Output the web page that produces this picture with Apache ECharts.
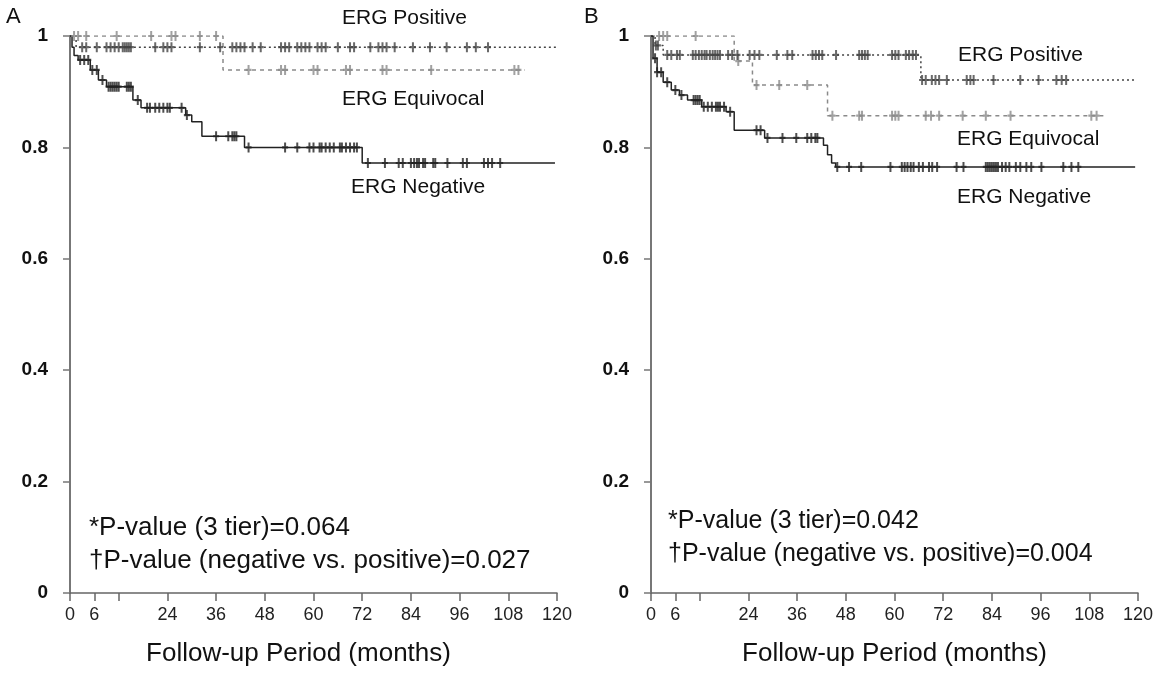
<!DOCTYPE html>
<html>
<head>
<meta charset="utf-8">
<script src="https://cdn.jsdelivr.net/npm/echarts@6/dist/echarts.min.js"></script>
<style>
  html, body { margin: 0; padding: 0; background: #fff; }
  #chart { width: 1156px; height: 678px; }
</style>
</head>
<body>
<div id="chart"></div>
<script>
// axis ticks
const xTicks = [0, 6, 12, 24, 36, 48, 60, 72, 84, 96, 108, 120];
const xLabels = [0, 6, 24, 36, 48, 60, 72, 84, 96, 108, 120];

// Panel A - step curves (time, survival) and censored times
const negA_t = [0, 0.5, 1, 2, 5, 7, 9, 15.5, 17.5, 28.5, 30, 32.5, 43, 72, 119.5];
const negA_s = [1, 0.98, 0.965, 0.957, 0.939, 0.921, 0.909, 0.885, 0.871, 0.858, 0.846, 0.82, 0.80, 0.772, 0.772];
const negA_c = [2.5, 3.5, 4.5, 5.5, 6.6, 8, 9.5, 10, 10.5, 11, 11.5, 12, 14, 14.5, 15, 16.7, 19, 19.7, 21, 22, 23, 24, 24.6, 27.5, 28.8,
  36, 39, 40, 40.5, 41, 44, 53, 56, 59, 60, 61.5, 62, 63, 64, 65, 66.5, 67, 68, 69, 70, 70.7,
  73.4, 77.6, 81, 82, 84, 84.8, 85.5, 86, 87, 87.5, 89.5, 90, 93, 96.8, 97.8, 102, 103, 104, 106];

const posA_t = [0, 1.5, 120];
const posA_s = [1, 0.98, 0.98];
const posA_c = [3, 4, 6.6, 9, 10, 11, 12, 13, 13.5, 14, 14.5, 15, 21, 23, 24, 25, 32, 37, 40, 41, 42, 43, 45, 47,
  52, 53, 54, 56, 57, 58, 59, 61, 62, 63, 66, 69, 70, 74, 76, 77, 78, 80, 84.5, 88.7, 92.8, 97.8, 100, 103];

const eqA_t = [0, 37.7, 112];
const eqA_s = [1, 0.939, 0.939];
const eqA_c = [1, 2, 4, 11.5, 20, 25, 26, 32, 36, 44, 52, 53, 60, 61, 68, 69, 77, 78, 89, 109.5, 110.5];

// Panel B
const negB_t = [0, 0.5, 1.5, 3, 5, 7, 9, 12.5, 18.5, 20.5, 28, 42.5, 43.5, 44.5, 45.5, 119.3];
const negB_s = [1, 0.96, 0.935, 0.917, 0.903, 0.894, 0.885, 0.873, 0.864, 0.831, 0.817, 0.804, 0.787, 0.772, 0.765, 0.765];
const negB_c = [1, 1.5, 2.5, 4, 6, 7.5, 10.5, 11, 11.5, 12, 13, 14, 15, 16, 16.5, 17, 18, 19.5, 26, 27, 28.7, 32.4, 35.8,
  38.5, 39.5, 40.5, 41, 45.9, 48.8, 51.8, 59, 61.8, 62.5, 63.2, 64, 64.7, 66, 67, 68.5, 69.3, 70.5, 75.3, 77,
  82.5, 83, 83.5, 84, 84.5, 85, 85.5, 86.5, 87.4, 88.3, 89.9, 91, 92.5, 93.7, 96.2, 101.6, 103.6, 105.3];

const posB_t = [0, 1, 3, 66.5, 119.5];
const posB_s = [1, 0.983, 0.966, 0.921, 0.921];
const posB_c = [1.2, 1.7, 4, 5, 6.4, 7.1, 10.3, 11, 11.8, 12.5, 13.2, 13.7, 14.5, 15.2, 15.8, 16.4, 17, 19, 20, 21.3,
  24.3, 25.5, 26.7, 31, 33.6, 34.8, 39.8, 40.6, 41.4, 42.2, 45.6, 51.3, 52, 52.7, 53.4, 59.4, 60.2, 61, 62.8, 63.6,
  64.5, 65.3, 66.8, 67.7, 69.2, 70.1, 71, 72.9, 77.8, 78.7, 79.5, 84.4, 91, 95.5, 99.9, 101.2, 102.3];

const eqB_t = [0, 20.5, 25, 43.5, 112.4];
const eqB_s = [1, 0.955, 0.912, 0.857, 0.857];
const eqB_c = [2, 3, 4, 11, 21.5, 26, 31.6, 38.5, 44.7, 51.3, 52, 59.4, 60.2, 61, 67.7, 69, 71, 76.8, 82.5, 88.6, 108.5, 109.8];

const FONT = '"Liberation Sans", Arial, sans-serif';
const CENSOR = 'path://M2,0h2v9h-2z M0,3.5h6v2h-6z';

function survAt(t, times, surv) {
  let v = surv[0];
  for (let i = 0; i < times.length; i++) {
    if (times[i] <= t) v = surv[i];
  }
  return v;
}

function curve(idx, times, surv, cens, color, type) {
  return [{
    type: 'line',
    xAxisIndex: idx,
    yAxisIndex: idx,
    step: 'end',
    showSymbol: false,
    silent: true,
    lineStyle: { color: color, width: 1.5, type: type },
    data: times.map((t, i) => [t, surv[i]]),
    z: 2
  }, {
    type: 'scatter',
    xAxisIndex: idx,
    yAxisIndex: idx,
    symbol: CENSOR,
    symbolSize: [6, 10],
    silent: true,
    itemStyle: { color: color },
    data: cens.map(t => [t, survAt(t, times, surv)]),
    z: 3
  }];
}

function xAxisFor(idx, shift) {
  return {
    type: 'value',
    gridIndex: idx,
    min: 0,
    max: 120,
    name: 'Follow-up Period (months)',
    nameLocation: 'middle',
    nameGap: 48,
    nameTextStyle: { fontFamily: FONT, fontSize: 26, color: '#111', padding: [0, shift, 0, 0] },
    axisLine: { lineStyle: { color: '#666', width: 1.5 } },
    axisTick: { show: true, length: 8, customValues: xTicks, lineStyle: { color: '#666', width: 1.5 } },
    axisLabel: { customValues: xLabels, fontFamily: FONT, fontSize: 18, color: '#222', margin: 13 },
    splitLine: { show: false }
  };
}

function yAxisFor(idx) {
  return {
    type: 'value',
    gridIndex: idx,
    min: 0,
    max: 1,
    interval: 0.2,
    axisLine: { show: true, lineStyle: { color: '#777', width: 2 } },
    axisTick: { show: true, length: 7, lineStyle: { color: '#777', width: 1.5 } },
    axisLabel: {
      fontFamily: FONT, fontSize: 19, fontWeight: 'bold', color: '#111', margin: 22,
      formatter: v => (v === 0 || v === 1) ? String(v) : v.toFixed(1)
    },
    splitLine: { show: false }
  };
}

function txt(x, y, s, size, weight) {
  return {
    type: 'text', left: x, top: y,
    style: { text: s, fontFamily: FONT, fontSize: size, fontWeight: weight || 'normal', fill: '#111' }
  };
}

const chart = echarts.init(document.getElementById('chart'), null, { renderer: 'canvas' });
chart.setOption({
  backgroundColor: '#fff',
  animation: false,
  grid: [
    { left: 70, right: 599, top: 36, bottom: 85 },
    { left: 651, right: 16, top: 36, bottom: 85 }
  ],
  xAxis: [xAxisFor(0, 30), xAxisFor(1, 0)],
  yAxis: [yAxisFor(0), yAxisFor(1)],
  graphic: [
    txt(6, 6, 'A', 22),
    txt(584, 6, 'B', 22),
    txt(342, 8, 'ERG Positive', 21),
    txt(342, 89, 'ERG Equivocal', 21),
    txt(351, 177, 'ERG Negative', 21),
    txt(958, 45, 'ERG Positive', 21),
    txt(957, 129, 'ERG Equivocal', 21),
    txt(957, 187, 'ERG Negative', 21),
    txt(89, 515, '*P-value (3 tier)=0.064', 26),
    txt(89, 548, '\u2020P-value (negative vs. positive)=0.027', 26),
    txt(668, 509, '*P-value (3 tier)=0.042', 25),
    txt(668, 542, '\u2020P-value (negative vs. positive)=0.004', 25)
  ],
  series: [].concat(
    curve(0, eqA_t, eqA_s, eqA_c, '#8a8a8a', [4, 4]),
    curve(0, posA_t, posA_s, posA_c, '#444', [2, 3]),
    curve(0, negA_t, negA_s, negA_c, '#222', 'solid'),
    curve(1, eqB_t, eqB_s, eqB_c, '#8a8a8a', [4, 4]),
    curve(1, posB_t, posB_s, posB_c, '#444', [2, 3]),
    curve(1, negB_t, negB_s, negB_c, '#222', 'solid')
  )
});
</script>
</body>
</html>
